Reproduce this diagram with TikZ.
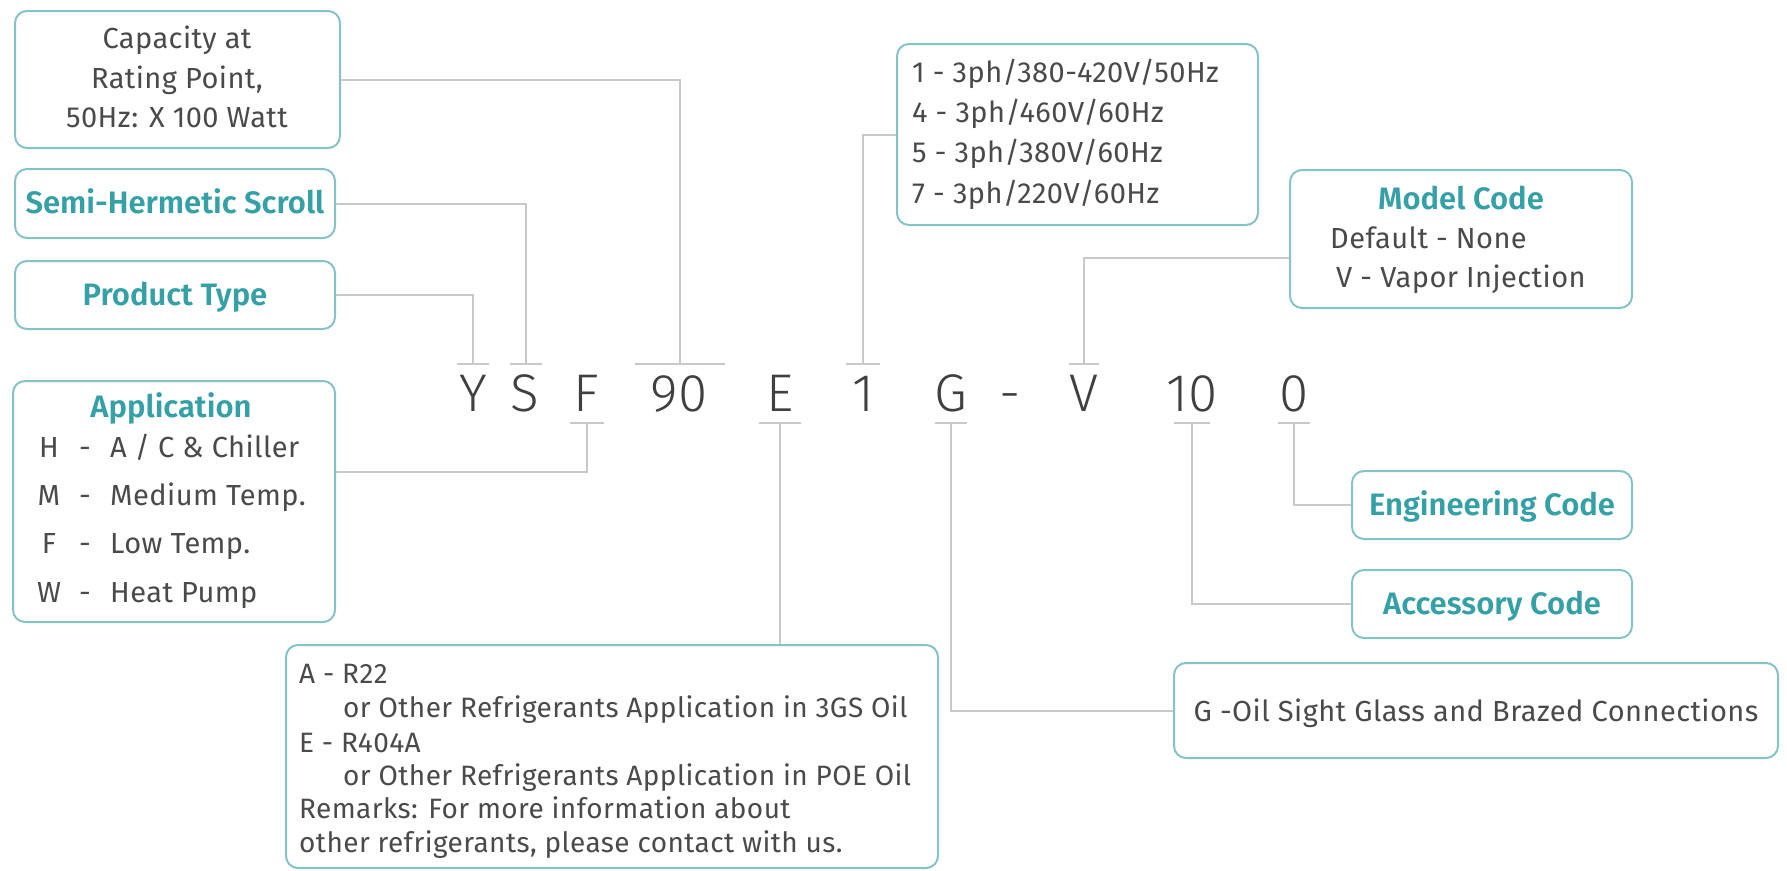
\documentclass[tikz,border=0pt]{standalone}
\usepackage{fontspec}
\setmainfont{Fira Sans}[LetterSpace=1.5]
\newfontfamily\codefont{Fira Sans Light}
\newfontfamily\semib{Fira Sans SemiBold}
\definecolor{boxc}{HTML}{86C3C9}
\definecolor{linec}{HTML}{C9C9C9}
\definecolor{textc}{HTML}{4A4A4A}
\definecolor{ttlc}{HTML}{35A0A6}
\definecolor{codec}{HTML}{404040}
\begin{document}
\begin{tikzpicture}[x=1pt,y=-1pt,
  box/.style={draw=boxc, line width=2pt, rounded corners=12pt, inner sep=0pt},
  conn/.style={draw=linec, line width=2pt},
  txt/.style={font=\fontsize{29}{32}\selectfont, text=textc, inner sep=0pt},
  rtxt/.style={font=\fontsize{28}{32}\selectfont, text=textc, inner sep=0pt},
  ttl/.style={font=\semib\fontsize{31}{34}\selectfont, text=ttlc, inner sep=0pt},
  code/.style={font=\codefont\fontsize{53}{58}\selectfont, text=codec, inner sep=0pt}]
\useasboundingbox[fill=white] (0,0) rectangle (1787,870);

% boxes
\node[box, minimum width=325pt, minimum height=137pt] (cap) at (177.5,79.5) {};
\node[box, minimum width=320pt, minimum height=69pt] (shs) at (175,203.5) {};
\node[box, minimum width=320pt, minimum height=68pt] (ptype) at (175,295) {};
\node[box, minimum width=322pt, minimum height=241pt] (app) at (174,501.5) {};
\node[box, minimum width=652pt, minimum height=223pt] (ref) at (612,756.5) {};
\node[box, minimum width=361pt, minimum height=181pt] (volt) at (1077.5,134.5) {};
\node[box, minimum width=342pt, minimum height=138pt] (model) at (1461,239) {};
\node[box, minimum width=280pt, minimum height=68pt] (eng) at (1492,505) {};
\node[box, minimum width=280pt, minimum height=68pt] (acc) at (1492,604) {};
\node[box, minimum width=604pt, minimum height=95pt] (gbox) at (1476,710.5) {};

% texts
\node[txt, anchor=mid] (cap1) at (177,46) {Capacity at};
\node[txt, anchor=mid] (cap2) at (177,86) {Rating Point,};
\node[txt, anchor=mid] (cap3) at (177,125) {50Hz: X 100 Watt};
\node[ttl, anchor=mid] (shst) at (175,211) {Semi-Hermetic Scroll};
\node[ttl, anchor=mid] (ptt) at (175,303) {Product Type};
\node[ttl, anchor=mid] (appt) at (171,415) {Application};
\foreach \l/\t/\y [count=\i] in {H/{A / C \& Chiller}/455, M/{Medium Temp.}/503, F/{Low Temp.}/551, W/{Heat Pump}/600}{
  \node[txt, anchor=mid] (appl\i) at (49,\y) {\l};
  \node[txt, anchor=mid] (appd\i) at (85,\y) {-};
  \node[txt, anchor=mid west] (appx\i) at (110,\y) {\t};
}
\node[rtxt, anchor=mid west] (r1) at (299,681) {A - R22};
\node[rtxt, anchor=mid west] (r2) at (343,715) {or Other Refrigerants Application in 3GS Oil};
\node[rtxt, anchor=mid west] (r3) at (299,750) {E - R404A};
\node[rtxt, anchor=mid west] (r4) at (343,783) {or Other Refrigerants Application in POE Oil};
\node[rtxt, anchor=mid west] (r5) at (299,816) {Remarks: For more information about};
\node[rtxt, anchor=mid west] (r6) at (299,850) {other refrigerants, please contact with us.};
\node[txt, anchor=mid west] (v1) at (912,80) {1 - 3ph/380-420V/50Hz};
\node[txt, anchor=mid west] (v2) at (912,120) {4 - 3ph/460V/60Hz};
\node[txt, anchor=mid west] (v3) at (912,160) {5 - 3ph/380V/60Hz};
\node[txt, anchor=mid west] (v4) at (912,201) {7 - 3ph/220V/60Hz};
\node[ttl, anchor=mid] (modt) at (1461,207) {Model Code};
\node[txt, anchor=mid west] (m1) at (1330,246) {Default - None};
\node[txt, anchor=mid west] (m2) at (1336,285) {V - Vapor Injection};
\node[ttl, anchor=mid] (engt) at (1492,513) {Engineering Code};
\node[ttl, anchor=mid] (acct) at (1492,612) {Accessory Code};
\node[txt, anchor=mid] (gt) at (1476,719) {G -Oil Sight Glass and Brazed Connections};

% code letters
\foreach \n/\c/\x in {cY/Y/473, cS/S/525, cF/F/586, c90/90/679, cE/E/780, c1/1/863, cG/G/951, cD/-/1010, cV/V/1084, c10/10/1192, c0/0/1294}{
  \node[code, anchor=mid] (\n) at (\x,409) {\c};
}

% ticks
\coordinate (tY) at (473,364);
\coordinate (tS) at (526,364);
\coordinate (t90) at (680,364);
\coordinate (t1) at (863,364);
\coordinate (tV) at (1084,364);
\coordinate (tF) at (587,423);
\coordinate (tE) at (780,423);
\coordinate (tG) at (951,423);
\coordinate (t10) at (1192,423);
\coordinate (t0) at (1294,423);
\foreach \t/\w in {tY/16, tS/16, t90/45, t1/17, tV/15, tF/17, tE/21, tG/16, t10/18, t0/16}{
  \draw[conn] ([xshift=-\w pt]\t) -- ([xshift=\w pt]\t);
}

% connectors
\draw[conn] (cap.east) -| (t90);
\draw[conn] (shs.east) -| (tS);
\draw[conn] (ptype.east) -| (tY);
\draw[conn] ([yshift=30pt]app.east) -| (tF);
\draw[conn] (tE) -- (tE |- ref.north);
\draw[conn] (volt.west) -| (t1);
\draw[conn] ([yshift=-19pt]model.west) -| (tV);
\draw[conn] (gbox.west) -| (tG);
\draw[conn] (acc.west) -| (t10);
\draw[conn] (eng.west) -| (t0);
\end{tikzpicture}
\end{document}
